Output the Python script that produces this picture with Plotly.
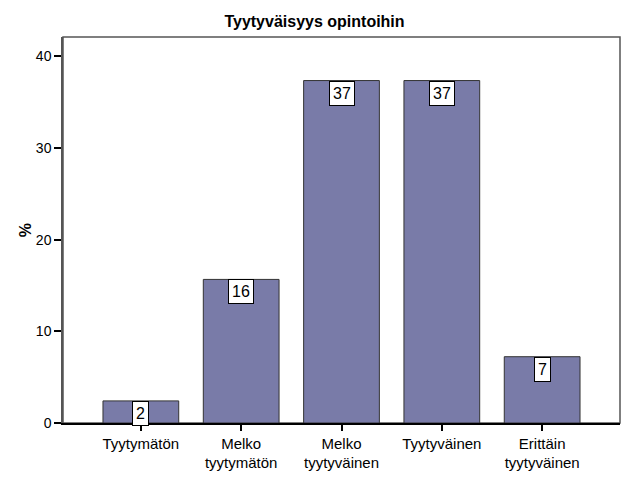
import plotly.graph_objects as go

# answers (n=83), shown as percentages
categories = ["Tyytymätön", "Melko<br>tyytymätön", "Melko<br>tyytyväinen",
              "Tyytyväinen", "Erittäin<br>tyytyväinen"]
percent = [2.41, 15.66, 37.35, 37.35, 7.23]
labels = ["2", "16", "37", "37", "7"]

x_pos = list(range(len(categories)))

fig = go.Figure(go.Bar(
    x=x_pos,
    y=percent,
    width=0.755,
    marker=dict(color="#797BA8", line=dict(color="#333333", width=1)),
    hoverinfo="skip",
))

# value boxes hanging from the top of each bar
for xi, yi, lab in zip(x_pos, percent, labels):
    fig.add_annotation(
        x=xi, y=yi, text=lab, showarrow=False,
        xanchor="center", yanchor="top",
        font=dict(family="Liberation Sans, Arial", size=16, color="black"),
        bgcolor="white", bordercolor="black", borderwidth=1, borderpad=3,
    )

# plot frame
fig.add_shape(type="rect", xref="paper", yref="paper", x0=0, y0=0, x1=1, y1=1,
              line=dict(color="#555555", width=1.5), layer="below")

fig.update_layout(
    width=629, height=504,
    margin=dict(l=63, r=9, t=37, b=81),
    paper_bgcolor="white", plot_bgcolor="white",
    showlegend=False,
    font=dict(family="Liberation Sans, Arial", color="black"),
    title=dict(text="<b>Tyytyväisyys opintoihin</b>", x=0.5, xanchor="center",
               y=0.957, yanchor="middle", font=dict(size=16)),
    xaxis=dict(
        range=[-0.776, 4.776],
        tickvals=x_pos, ticktext=categories,
        ticks="outside", ticklen=6, tickcolor="black", tickwidth=1.5,
        showline=True, linecolor="black", linewidth=1.5,
        showgrid=False, zeroline=False, automargin=False,
        tickfont=dict(size=15),
    ),
    yaxis=dict(
        range=[0, 42.1],
        tickvals=[0, 10, 20, 30, 40],
        ticks="outside", ticklen=7, tickcolor="black", tickwidth=1.5,
        showline=True, linecolor="#555555", linewidth=1.5,
        showgrid=False, zeroline=False, automargin=False,
        tickfont=dict(size=14),
        title=dict(text="<b>%</b>", font=dict(size=16), standoff=0),
    ),
)

# page body has a default 8px margin; drop it so the figure sits at 0,0
fig.write_html("out.html", config={"displayModeBar": False},
               post_script="document.body.style.margin='0';document.body.style.overflow='hidden';")
